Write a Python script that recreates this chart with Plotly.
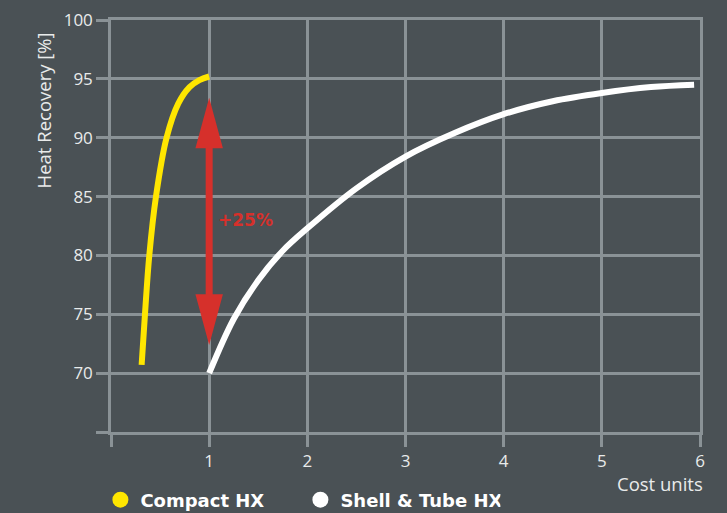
import plotly.graph_objects as go

# ---- data ----
compact_x = [0.312, 0.346, 0.39, 0.458, 0.566, 0.685, 0.80, 0.90, 1.0]
compact_y = [70.7, 75.0, 80.0, 85.0, 90.0, 92.9, 94.3, 94.9, 95.2]

shell_x = [1.0, 1.25, 1.5, 1.75, 2.0, 2.5, 3.0, 3.5, 4.0, 4.5, 5.0, 5.5, 5.94]
shell_y = [70.0, 74.6, 77.9, 80.4, 82.3, 85.7, 88.4, 90.4, 92.0, 93.1, 93.8, 94.3, 94.5]

x_ticks = [0, 1, 2, 3, 4, 5, 6]
x_tick_labels = ["", "1", "2", "3", "4", "5", "6"]
y_ticks = [65, 70, 75, 80, 85, 90, 95, 100]
y_tick_labels = ["", "70", "75", "80", "85", "90", "95", "100"]

series_names = ["Compact HX", "Shell & Tube HX"]

# arrow annotation values
arrow_x = 1.0
arrow_top = 93.4
arrow_bottom = 72.4
arrow_head_len = 4.3
arrow_head_half = 0.14
arrow_label = "+25%"
arrow_label_x = 1.072
arrow_label_y = 83.0

# ---- styles ----
BG = "#4a5155"
GRID = "#8a9296"
TEXT = "#e9ebeb"
YELLOW = "#ffe600"
WHITE = "#ffffff"
RED = "#d6302b"
TICK_FONT = dict(family="Open Sans", size=17, color=TEXT)

fig = go.Figure()

fig.add_trace(go.Scatter(x=compact_x, y=compact_y, mode="lines", line_shape="spline",
                         line=dict(color=YELLOW, width=6), showlegend=False,
                         legendgroup="c", hoverinfo="skip"))
fig.add_trace(go.Scatter(x=shell_x, y=shell_y, mode="lines", line_shape="spline",
                         line=dict(color=WHITE, width=6), showlegend=False,
                         legendgroup="s", hoverinfo="skip"))
# legend entries (circle markers)
fig.add_trace(go.Scatter(x=[None], y=[None], mode="markers", name=series_names[0],
                         marker=dict(color=YELLOW, size=19), legendgroup="c"))
fig.add_trace(go.Scatter(x=[None], y=[None], mode="markers", name=series_names[1],
                         marker=dict(color=WHITE, size=19), legendgroup="s"))

# arrow: shaft + two heads
fig.add_shape(type="line", x0=arrow_x, x1=arrow_x,
              y0=arrow_bottom + arrow_head_len - 0.3, y1=arrow_top - arrow_head_len + 0.3,
              line=dict(color=RED, width=7), layer="above")
top_base = arrow_top - arrow_head_len
bot_base = arrow_bottom + arrow_head_len
fig.add_shape(type="path",
              path=f"M {arrow_x - arrow_head_half},{top_base} L {arrow_x},{arrow_top} "
                   f"L {arrow_x + arrow_head_half},{top_base} Z",
              fillcolor=RED, line=dict(width=0), layer="above")
fig.add_shape(type="path",
              path=f"M {arrow_x - arrow_head_half},{bot_base} L {arrow_x},{arrow_bottom} "
                   f"L {arrow_x + arrow_head_half},{bot_base} Z",
              fillcolor=RED, line=dict(width=0), layer="above")
fig.add_annotation(x=arrow_label_x, y=arrow_label_y, text=f"<b>{arrow_label}</b>",
                   showarrow=False, xanchor="left", yanchor="middle",
                   font=dict(family="DejaVu Sans", size=17, color=RED))

# axis titles as annotations
fig.add_annotation(xref="paper", yref="paper", x=-0.115, y=0.781,
                   text="Heat Recovery [%]", textangle=-90, showarrow=False,
                   xanchor="center", yanchor="middle",
                   font=dict(family="Open Sans", size=18.5, color=TEXT))
fig.add_annotation(xref="paper", yref="paper", x=1.008, y=-0.124,
                   text="Cost units", showarrow=False, xanchor="right", yanchor="middle",
                   font=dict(family="Open Sans", size=18.5, color=TEXT))

axis_common = dict(showgrid=True, gridcolor=GRID, gridwidth=2.5, zeroline=False,
                   showline=True, linecolor=GRID, linewidth=2.5, mirror=True,
                   ticks="outside", tickcolor=GRID, tickwidth=2.5, ticklen=12,
                   tickfont=TICK_FONT, fixedrange=True)

fig.update_xaxes(range=[0, 6], tickmode="array", tickvals=x_ticks, ticktext=x_tick_labels,
                 **axis_common)
fig.update_yaxes(range=[65, 100], tickmode="array", tickvals=y_ticks, ticktext=y_tick_labels,
                 **axis_common)

fig.update_layout(
    width=727, height=513,
    paper_bgcolor=BG, plot_bgcolor=BG,
    margin=dict(l=111, r=27, t=20, b=81, autoexpand=False),
    legend=dict(orientation="h", x=-0.018, y=-0.165, xanchor="left", yanchor="middle",
                font=dict(family="DejaVu Sans", size=18, color=WHITE, weight="bold"),
                bgcolor="rgba(0,0,0,0)", entrywidthmode="pixels", entrywidth=155,
                itemclick=False, itemdoubleclick=False),
)

fig.write_html("out.html", config={"displayModeBar": False},
               post_script="document.body.style.margin='0';"
                           "document.body.style.overflow='hidden';")
